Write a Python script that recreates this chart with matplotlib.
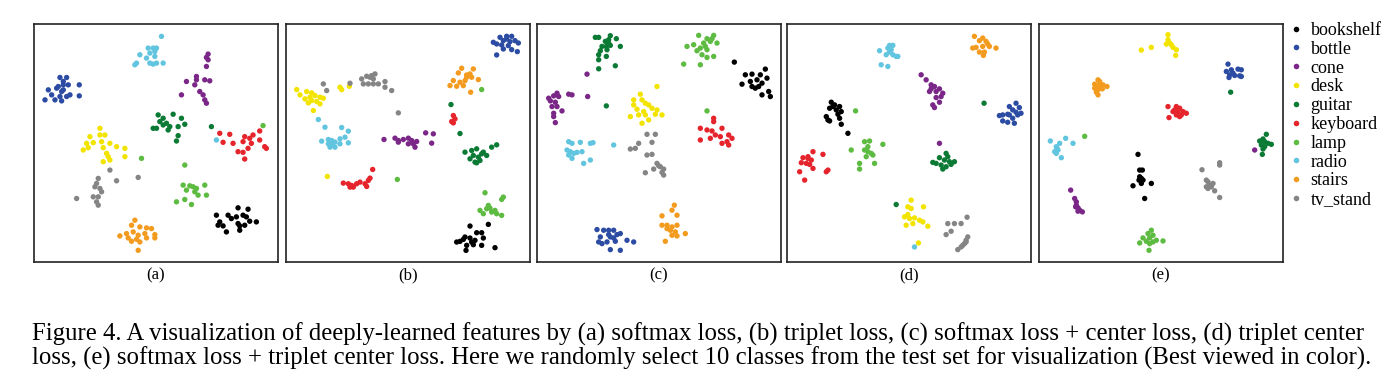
import matplotlib.pyplot as plt
from matplotlib.lines import Line2D

plt.rcParams['font.family'] = ['Liberation Serif', 'DejaVu Serif']

classes = ['bookshelf', 'bottle', 'cone', 'desk', 'guitar', 'keyboard',
           'lamp', 'radio', 'stairs', 'tv_stand']
colors = ['#000000', '#2c4ca3', '#7a2788', '#f3e400', '#0b7a35', '#e5242b',
          '#5dbb41', '#62c5df', '#f39b1e', '#858585']
panel_labels = ['(a)', '(b)', '(c)', '(d)', '(e)']

# 2-D embedding coordinates (y grows downward)
emb_a = {
    'bookshelf': [(625, 578), (655, 582), (560, 600), (595, 600), (620, 605), (605, 610), (640, 600),
                  (650, 605), (570, 620), (565, 630), (580, 632), (625, 625), (630, 632), (645, 630),
                  (680, 620), (590, 650), (630, 645), (660, 618)],
    'bottle': [(90, 188), (110, 188), (100, 200), (85, 215), (100, 210), (115, 210), (148, 210),
               (55, 225), (80, 220), (95, 230), (100, 225), (120, 240), (148, 243), (65, 240),
               (45, 255), (75, 255), (95, 258), (110, 245), (90, 245)],
    'cone': [(535, 118), (530, 128), (535, 135), (530, 155), (470, 200), (500, 195), (495, 210),
             (525, 195), (540, 198), (455, 240), (510, 230), (520, 240), (525, 255), (530, 265),
             (500, 185)],
    'desk': [(210, 340), (180, 365), (225, 360), (170, 385), (190, 383), (215, 380), (240, 385),
             (160, 405), (175, 398), (220, 398), (260, 395), (285, 400), (230, 415), (235, 425),
             (285, 425), (220, 440), (240, 435), (210, 360)],
    'guitar': [(385, 300), (430, 298), (400, 310), (455, 310), (370, 340), (380, 340), (400, 330),
               (410, 325), (420, 335), (445, 335), (465, 328), (445, 362), (440, 378), (415, 345),
               (390, 320), (545, 335)],
    'keyboard': [(570, 355), (600, 358), (645, 365), (670, 360), (690, 348), (690, 375), (580, 382),
                 (610, 385), (640, 380), (665, 385), (705, 395), (710, 400), (655, 400), (640, 412),
                 (625, 410), (645, 432), (660, 370)],
    'lamp': [(700, 332), (335, 430), (465, 450), (460, 510), (480, 512), (490, 515), (500, 520),
             (525, 510), (470, 525), (505, 540), (530, 540), (440, 560), (465, 553), (485, 568),
             (495, 530)],
    'radio': [(395, 65), (355, 100), (370, 100), (380, 100), (375, 110), (360, 115), (330, 120),
              (375, 125), (320, 145), (315, 150), (360, 145), (370, 148), (380, 145), (400, 145),
              (350, 130), (560, 375)],
    'stairs': [(315, 615), (305, 630), (330, 635), (350, 638), (365, 640), (290, 655), (310, 650),
               (325, 660), (345, 655), (375, 658), (270, 662), (295, 668), (320, 672), (350, 668),
               (375, 668), (305, 678), (330, 680), (325, 705)],
    'tv_stand': [(240, 465), (260, 497), (325, 487), (205, 490), (200, 505), (210, 520), (215, 530),
                 (190, 545), (140, 550), (205, 545), (200, 560), (205, 570), (195, 515)],
}

emb_b = {
    'bookshelf': [(570, 632), (625, 627), (590, 652), (605, 652), (555, 665), (570, 668), (610, 668),
                  (585, 675), (540, 678), (530, 680), (575, 680), (560, 690), (605, 690), (580, 688),
                  (645, 697), (558, 705), (550, 672)],
    'bottle': [(660, 65), (680, 62), (695, 62), (670, 75), (690, 78), (705, 75), (650, 85), (665, 88),
               (685, 90), (715, 82), (640, 80), (670, 100), (695, 102), (712, 108), (650, 118),
               (680, 70)],
    'cone': [(437, 352), (460, 355), (312, 372), (345, 368), (355, 375), (370, 372), (385, 368),
             (395, 375), (410, 378), (400, 385), (385, 385), (405, 395), (455, 383), (355, 380)],
    'desk': [(50, 222), (80, 228), (60, 238), (95, 232), (105, 240), (90, 245), (120, 245), (130, 248),
             (75, 250), (95, 255), (110, 258), (120, 265), (100, 285), (180, 215), (185, 222),
             (208, 212), (85, 262), (142, 483)],
    'guitar': [(555, 410), (575, 405), (590, 400), (610, 410), (635, 395), (650, 388), (580, 420),
               (595, 425), (620, 420), (570, 430), (585, 440), (600, 435), (590, 442), (605, 415),
               (513, 267), (540, 354)],
    'keyboard': [(520, 300), (525, 310), (515, 318), (520, 322), (278, 462), (190, 503), (205, 505),
                 (215, 510), (220, 515), (230, 505), (240, 500), (255, 505), (260, 513), (265, 495),
                 (270, 488), (210, 515)],
    'lamp': [(615, 532), (670, 545), (665, 552), (625, 570), (630, 578), (600, 585), (610, 595),
             (635, 590), (650, 595), (665, 600), (645, 585), (620, 580), (605, 222), (352, 492)],
    'radio': [(115, 312), (135, 335), (185, 336), (205, 347), (125, 377), (145, 372), (155, 375),
              (165, 380), (180, 370), (195, 365), (205, 382), (145, 385), (150, 395), (165, 395),
              (180, 385), (155, 388)],
    'stairs': [(545, 158), (580, 160), (535, 172), (570, 175), (560, 185), (575, 185), (520, 195),
               (540, 200), (555, 195), (595, 192), (510, 210), (530, 212), (550, 210), (572, 230),
               (560, 178)],
    'tv_stand': [(285, 175), (260, 182), (245, 190), (270, 185), (280, 190), (250, 205), (265, 205),
                 (280, 205), (295, 205), (315, 198), (315, 215), (335, 225), (130, 205), (140, 225),
                 (210, 203), (355, 292), (275, 180)],
}

emb_c = {
    'bookshelf': [(612, 142), (705, 163), (645, 180), (665, 178), (690, 180), (710, 190), (635, 208),
                  (660, 200), (680, 195), (665, 215), (685, 215), (695, 205), (715, 230), (695, 240),
                  (720, 245), (675, 220)],
    'bottle': [(200, 643), (220, 645), (235, 645), (250, 645), (235, 658), (260, 658), (270, 655),
               (210, 665), (240, 665), (250, 668), (205, 680), (230, 680), (255, 678), (290, 675),
               (310, 680), (240, 703), (270, 705), (215, 685)],
    'cone': [(80, 235), (70, 243), (55, 250), (85, 245), (115, 238), (125, 240), (172, 245), (60, 258),
             (75, 262), (80, 275), (65, 275), (95, 288), (70, 295), (70, 305), (75, 323), (170, 178)],
    'desk': [(380, 215), (330, 238), (310, 255), (335, 255), (345, 265), (355, 270), (320, 283),
             (340, 290), (365, 280), (380, 285), (300, 305), (325, 300), (345, 300), (375, 298),
             (395, 300), (335, 325), (355, 315), (310, 270)],
    'guitar': [(195, 68), (205, 68), (240, 63), (258, 72), (225, 80), (235, 85), (215, 95), (228, 95),
               (240, 92), (270, 95), (210, 108), (230, 105), (205, 120), (228, 125), (205, 135),
               (255, 153), (205, 162), (235, 75), (228, 273)],
    'keyboard': [(550, 310), (550, 320), (510, 340), (530, 345), (545, 348), (575, 340), (555, 360),
                 (570, 365), (540, 370), (595, 360), (605, 370), (590, 380), (575, 385), (510, 375),
                 (595, 390)],
    'lamp': [(505, 62), (550, 62), (530, 72), (470, 95), (490, 90), (520, 85), (540, 80), (560, 85),
             (510, 100), (525, 95), (530, 105), (500, 108), (515, 120), (530, 128), (550, 125),
             (460, 148), (510, 150), (545, 72), (530, 288)],
    'radio': [(115, 380), (125, 385), (150, 382), (180, 385), (188, 383), (250, 390), (110, 405),
              (120, 410), (140, 412), (155, 410), (115, 420), (125, 430), (180, 435), (160, 445),
              (130, 415)],
    'stairs': [(432, 570), (425, 585), (395, 602), (440, 600), (395, 630), (410, 630), (425, 635),
               (440, 630), (420, 645), (435, 650), (425, 660), (440, 662), (465, 655), (405, 678),
               (410, 640)],
    'tv_stand': [(350, 358), (375, 358), (325, 385), (365, 382), (300, 402), (315, 400), (350, 420),
                 (365, 418), (380, 445), (390, 455), (400, 462), (370, 462), (345, 473), (395, 472),
                 (400, 480), (385, 452)],
}

emb_d = {
    'bookshelf': [(155, 262), (165, 270), (180, 275), (150, 280), (170, 285), (185, 290), (175, 298),
                  (140, 305), (145, 315), (180, 310), (185, 328), (205, 355), (160, 275), (150, 318)],
    'bottle': [(710, 265), (690, 275), (720, 278), (700, 285), (670, 300), (685, 298), (710, 292),
               (725, 295), (715, 300), (660, 302), (690, 300), (670, 318), (685, 322), (705, 325),
               (700, 310)],
    'cone': [(425, 180), (440, 195), (455, 210), (465, 215), (480, 222), (450, 230), (470, 230),
             (490, 235), (485, 245), (470, 248), (460, 270), (465, 278), (480, 262), (455, 222),
             (480, 385)],
    'desk': [(395, 555), (385, 575), (395, 580), (432, 575), (375, 605), (390, 610), (405, 608),
             (420, 615), (430, 620), (380, 630), (400, 625), (445, 633), (417, 683), (385, 598)],
    'guitar': [(500, 415), (505, 425), (480, 428), (495, 435), (510, 440), (525, 440), (460, 442),
               (470, 445), (485, 450), (500, 455), (490, 462), (515, 448), (614, 265), (350, 568)],
    'keyboard': [(100, 410), (130, 418), (70, 428), (85, 430), (95, 435), (65, 443), (80, 445),
                 (90, 448), (100, 460), (60, 470), (145, 465), (140, 470), (75, 495), (85, 425)],
    'lamp': [(255, 380), (270, 378), (310, 388), (215, 405), (255, 405), (265, 410), (275, 415),
             (260, 425), (280, 420), (285, 445), (240, 445), (240, 462), (265, 395), (228, 288)],
    'radio': [(330, 92), (340, 92), (300, 108), (325, 100), (330, 112), (320, 120), (340, 120),
              (350, 125), (355, 125), (305, 150), (325, 155), (335, 105), (405, 695)],
    'stairs': [(585, 65), (610, 70), (600, 78), (620, 80), (580, 100), (590, 98), (610, 95), (630, 95),
               (650, 100), (600, 112), (615, 112), (612, 122), (625, 88)],
    'tv_stand': [(563, 606), (505, 625), (525, 625), (545, 625), (515, 648), (500, 658), (565, 665),
                 (560, 675), (555, 685), (545, 695), (535, 703), (550, 690), (560, 680)],
}

emb_e = {
    'bookshelf': [(315, 418), (320, 465), (328, 465), (320, 485), (325, 490), (330, 495), (300, 512),
                  (325, 505), (355, 505), (335, 550), (318, 495)],
    'bottle': [(585, 148), (580, 170), (595, 165), (615, 163), (625, 165), (590, 180), (605, 182),
               (620, 183), (625, 185), (588, 188), (600, 175)],
    'cone': [(113, 525), (125, 550), (130, 560), (130, 570), (135, 578), (140, 585), (148, 590),
             (135, 588), (128, 575), (665, 405)],
    'desk': [(405, 60), (405, 75), (400, 88), (415, 90), (420, 98), (430, 105), (428, 122), (325, 106),
             (355, 98), (410, 85)],
    'guitar': [(700, 358), (690, 372), (680, 378), (695, 380), (705, 385), (715, 388), (685, 390),
               (695, 395), (688, 418), (690, 402), (593, 232)],
    'keyboard': [(405, 275), (430, 275), (440, 280), (420, 290), (435, 290), (450, 290), (460, 295),
                 (430, 300), (445, 300), (408, 308), (440, 305), (425, 285)],
    'lamp': [(355, 645), (345, 655), (360, 660), (330, 668), (350, 668), (340, 678), (370, 675),
             (390, 677), (320, 683), (350, 685), (348, 705), (360, 680), (155, 364)],
    'radio': [(52, 378), (98, 370), (80, 385), (120, 385), (70, 395), (75, 405), (65, 410), (70, 415),
              (85, 428), (72, 400)],
    'stairs': [(195, 195), (200, 200), (185, 208), (200, 213), (210, 210), (222, 215), (185, 220),
               (195, 225), (208, 222), (190, 232), (195, 240), (190, 212)],
    'tv_stand': [(560, 443), (560, 450), (507, 464), (520, 495), (525, 500), (530, 510), (520, 515),
                 (525, 520), (535, 515), (545, 527), (560, 547), (540, 505)],
}

panels = [emb_a, emb_b, emb_c, emb_d, emb_e]
# visible extent of each embedding (x0, x1, y0, y1)
extents = [(12, 745, 28, 740), (18, 750, 25, 740), (20, 752, 28, 740),
           (22, 755, 28, 740), (18, 750, 28, 740)]

caption = ("Figure 4. A visualization of deeply-learned features by (a) softmax loss, (b) triplet loss, "
           "(c) softmax loss + center loss, (d) triplet center\n"
           "loss, (e) softmax loss + triplet center loss. Here we randomly select 10 classes from the "
           "test set for visualization (Best viewed in color).")

fig = plt.figure(figsize=(14, 3.91), dpi=100)
lefts = [34, 286, 537, 787, 1039]

for left, emb, ext, lab in zip(lefts, panels, extents, panel_labels):
    ax = fig.add_axes([left / 1400, 1 - 262 / 391, 244 / 1400, 238 / 391])
    for cls, col in zip(classes, colors):
        pts = emb[cls]
        ax.scatter([p[0] for p in pts], [p[1] for p in pts], s=15, color=col,
                   edgecolors='none')
    ax.set_xlim(ext[0], ext[1])
    ax.set_ylim(ext[3], ext[2])
    ax.set_xticks([])
    ax.set_yticks([])
    for sp in ax.spines.values():
        sp.set_linewidth(1.2)
        sp.set_color('#222222')
    ax.text(0.5, -0.022, lab, transform=ax.transAxes, ha='center', va='top', fontsize=12)

handles = [Line2D([], [], marker='o', linestyle='none', markersize=4, color=c,
                  markeredgewidth=0) for c in colors]
fig.legend(handles, classes, loc='upper left', bbox_to_anchor=(1287 / 1400, 1 - 22 / 391),
           frameon=False, fontsize=13, handletextpad=0.3, handlelength=1.0,
           labelspacing=0.1, borderaxespad=0, borderpad=0)

fig.text(32 / 1400, 1 - 346 / 391, caption, ha='left', va='center', fontsize=17.8,
         linespacing=1.02)

fig.savefig('out.png', dpi=100)
